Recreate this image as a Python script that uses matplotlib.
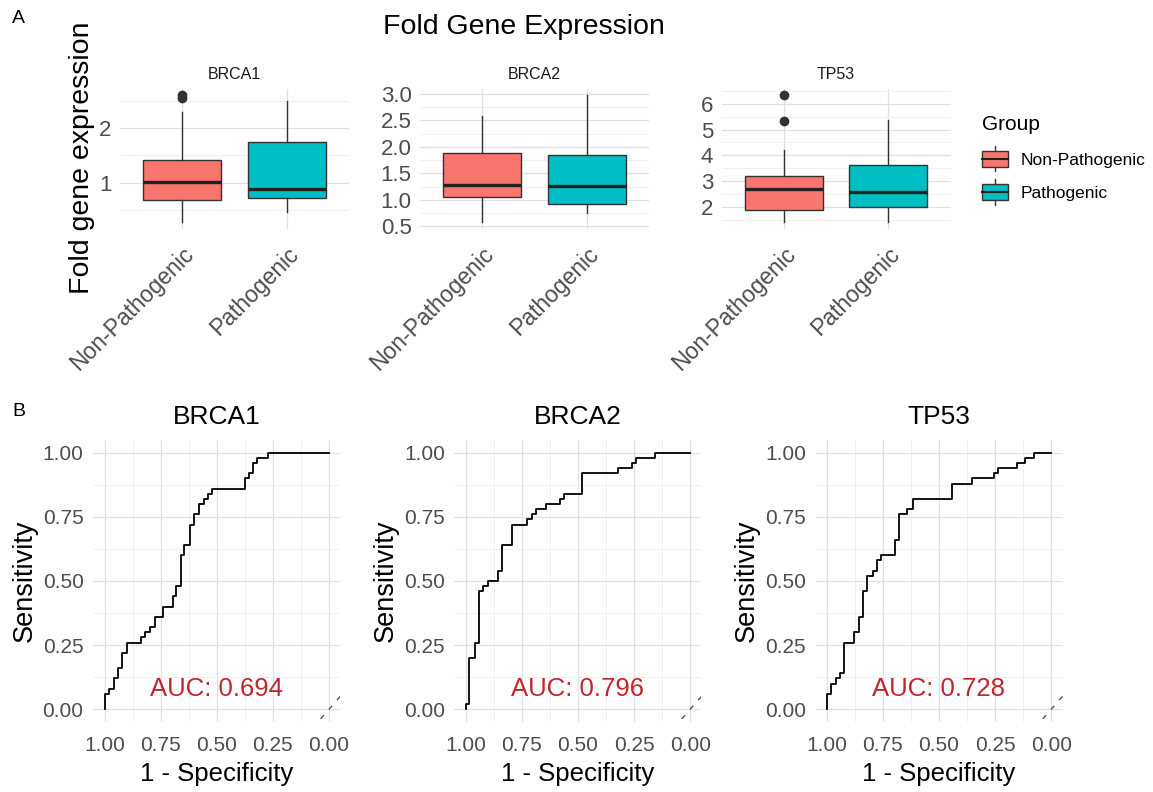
import matplotlib
matplotlib.use("Agg")
import matplotlib.pyplot as plt
from matplotlib.patches import Patch, Rectangle
from matplotlib.lines import Line2D
from matplotlib.legend_handler import HandlerBase
from matplotlib.ticker import MultipleLocator, FormatStrFormatter
from matplotlib.transforms import ScaledTranslation

plt.rcParams['font.family'] = ['Liberation Sans', 'DejaVu Sans']

# ---- data -------------------------------------------------------------
genes = ["BRCA1", "BRCA2", "TP53"]
groups = ["Non-Pathogenic", "Pathogenic"]
group_colors = ["#F8766D", "#00BFC4"]

# boxplot summaries, per gene: [Non-Pathogenic, Pathogenic]
box_q1 = [[0.69, 0.72], [1.05, 0.93], [1.87, 2.00]]
box_median = [[1.01, 0.88], [1.28, 1.26], [2.67, 2.59]]
box_q3 = [[1.41, 1.74], [1.88, 1.85], [3.21, 3.61]]
whisker_low = [[0.28, 0.47], [0.58, 0.75], [1.40, 1.40]]
whisker_high = [[2.30, 2.49], [2.58, 2.98], [4.22, 5.36]]
outliers = [[[2.56, 2.61], []], [[], []], [[6.35, 5.34], []]]
y_major = [1.0, 0.5, 1.0]
y_fmt = ["%g", "%.1f", "%g"]

# ROC curves (specificity on reversed x axis, sensitivity on y)
roc_spec = [
    [1.0, 1.0, 0.982, 0.957, 0.939, 0.920, 0.900, 0.838, 0.818, 0.797, 0.775, 0.741, 0.696, 0.681,
     0.659, 0.644, 0.621, 0.602, 0.581, 0.559, 0.539, 0.520, 0.376, 0.356, 0.338, 0.320, 0.274, 0.0],
    [1.0, 1.0, 0.984, 0.958, 0.939, 0.921, 0.903, 0.857, 0.839, 0.794, 0.727, 0.705, 0.687, 0.642,
     0.581, 0.563, 0.483, 0.322, 0.258, 0.240, 0.156, 0.0],
    [1.0, 1.0, 0.982, 0.958, 0.940, 0.921, 0.878, 0.858, 0.839, 0.821, 0.796, 0.776, 0.757, 0.694,
     0.676, 0.642, 0.616, 0.440, 0.355, 0.257, 0.239, 0.154, 0.115, 0.075, 0.0],
]
roc_sens = [
    [0.0, 0.06, 0.08, 0.12, 0.16, 0.22, 0.26, 0.28, 0.30, 0.32, 0.36, 0.40, 0.44, 0.48,
     0.60, 0.64, 0.72, 0.76, 0.80, 0.82, 0.84, 0.86, 0.90, 0.92, 0.96, 0.98, 1.00, 1.00],
    [0.0, 0.02, 0.20, 0.26, 0.46, 0.48, 0.50, 0.54, 0.64, 0.72, 0.74, 0.76, 0.78, 0.80,
     0.82, 0.84, 0.92, 0.94, 0.96, 0.98, 1.00, 1.00],
    [0.0, 0.06, 0.10, 0.12, 0.14, 0.26, 0.30, 0.36, 0.46, 0.52, 0.54, 0.58, 0.60, 0.66,
     0.76, 0.78, 0.82, 0.88, 0.90, 0.92, 0.94, 0.96, 0.98, 1.00, 1.00],
]
auc_values = [0.694, 0.796, 0.728]

# ---- layout -----------------------------------------------------------
W, H = 1153, 792
fig = plt.figure(figsize=(W / 100, H / 100), dpi=100)
fig.patch.set_facecolor("white")

TICK_GRAY = "#4D4D4D"
EDGE = "#333333"


def px_axes(left, top, right, bottom):
    return fig.add_axes([left / W, 1 - bottom / H, (right - left) / W, (bottom - top) / H])


def minimal_grid(ax):
    for s in ax.spines.values():
        s.set_visible(False)
    ax.grid(True, which="major", color="#E0E0E0", lw=0.9)
    ax.grid(True, which="minor", color="#EEEEEE", lw=0.6)
    ax.set_axisbelow(True)
    ax.tick_params(which="both", length=0)


class BoxKey(HandlerBase):
    def create_artists(self, legend, orig_handle, xdescent, ydescent, width, height, fontsize, trans):
        x0, y0 = -xdescent, -ydescent
        xm = x0 + width / 2
        box = Rectangle((x0, y0), width, height, facecolor=orig_handle.get_facecolor(),
                        edgecolor=EDGE, lw=1, transform=trans)
        med = Line2D([x0, x0 + width], [y0 + height / 2] * 2, color="#222222", lw=1.5, transform=trans)
        w_hi = Line2D([xm, xm], [y0 + height, y0 + height * 1.3], color=EDGE, lw=1, transform=trans)
        w_lo = Line2D([xm, xm], [y0 - height * 0.3, y0], color=EDGE, lw=1, transform=trans)
        return [w_hi, w_lo, box, med]


# ---- A: boxplots ------------------------------------------------------
box_lefts = [120, 420, 721.5]
for i, gene in enumerate(genes):
    left = box_lefts[i]
    ax = px_axes(left, 88.5, left + 229, 228.5)
    stats = []
    for j in range(2):
        stats.append(dict(q1=box_q1[i][j], med=box_median[i][j], q3=box_q3[i][j],
                          whislo=whisker_low[i][j], whishi=whisker_high[i][j],
                          fliers=outliers[i][j]))
    bp = ax.bxp(stats, positions=[1, 2], widths=0.75, patch_artist=True, showcaps=False,
                boxprops=dict(edgecolor=EDGE, linewidth=1.0),
                medianprops=dict(color="#222222", linewidth=2.4),
                whiskerprops=dict(color=EDGE, linewidth=1.0),
                flierprops=dict(marker="o", markerfacecolor="#333333", markeredgecolor="#333333",
                                markersize=6))
    for patch, c in zip(bp["boxes"], group_colors):
        patch.set_facecolor(c)

    lo = min(whisker_low[i] + [v for o in outliers[i] for v in o])
    hi = max(whisker_high[i] + [v for o in outliers[i] for v in o])
    pad = (hi - lo) * 0.05
    ax.set_ylim(lo - pad, hi + pad)
    ax.set_xlim(0.4, 2.6)
    ax.yaxis.set_major_locator(MultipleLocator(y_major[i]))
    ax.yaxis.set_minor_locator(MultipleLocator(y_major[i] / 2))
    ax.yaxis.set_major_formatter(FormatStrFormatter(y_fmt[i]))
    minimal_grid(ax)
    ax.grid(False, axis="x", which="minor")
    ax.set_xticks([1, 2])
    ax.set_xticklabels(groups, rotation=45, ha="right", rotation_mode="anchor",
                       fontsize=16.5, color=TICK_GRAY)
    off = ScaledTranslation(14 / 100, 0, fig.dpi_scale_trans)
    for lab in ax.get_xticklabels():
        lab.set_transform(lab.get_transform() + off)
    ax.tick_params(axis="x", pad=10)
    ax.tick_params(axis="y", labelsize=16, labelcolor=TICK_GRAY, pad=6)
    ax.set_title(gene, fontsize=11.5, color="#1A1A1A", pad=7)

fig.text(12 / W, 1 - 18.5 / H, "A", fontsize=14, ha="left", va="center")
fig.text(524 / W, 1 - 27 / H, "Fold Gene Expression", fontsize=20.5, ha="center", va="center")
fig.text(82 / W, 1 - 158 / H, "Fold gene expression", fontsize=20.5, rotation=90,
         ha="center", va="center")

handles = [Patch(facecolor=c) for c in group_colors]
leg = fig.legend(handles, groups, title="Group", loc="upper left",
                 bbox_to_anchor=(982 / W, 1 - 115 / H), frameon=False, borderpad=0,
                 borderaxespad=0, fontsize=12.5, title_fontsize=15, handlelength=1.5,
                 handleheight=1.04, handletextpad=0.75, labelspacing=0.95, alignment="left",
                 handler_map={Patch: BoxKey()})
leg._legend_box.sep = 12

# ---- B: ROC curves ----------------------------------------------------
roc_lefts = [93.3, 454.5, 815.5]
for i, gene in enumerate(genes):
    left = roc_lefts[i]
    ax = px_axes(left, 440, left + 247, 722)
    ax.step(roc_spec[i], roc_sens[i], where="post", color="black", lw=1.3)
    ax.axline((0, 0), slope=-1, color="#444444", lw=0.9, ls=(0, (4, 6)))
    ax.set_xlim(1.05, -0.05)
    ax.set_ylim(-0.05, 1.05)
    ax.xaxis.set_major_locator(MultipleLocator(0.25))
    ax.yaxis.set_major_locator(MultipleLocator(0.25))
    ax.xaxis.set_minor_locator(MultipleLocator(0.125))
    ax.yaxis.set_minor_locator(MultipleLocator(0.125))
    ax.xaxis.set_major_formatter(FormatStrFormatter("%.2f"))
    ax.yaxis.set_major_formatter(FormatStrFormatter("%.2f"))
    minimal_grid(ax)
    ax.tick_params(labelsize=15, labelcolor=TICK_GRAY)
    ax.tick_params(axis="x", pad=10)
    ax.tick_params(axis="y", pad=7)
    ax.set_title(gene, fontsize=19, pad=11.5)
    ax.set_xlabel("1 - Specificity", fontsize=18.5)
    ax.set_ylabel("Sensitivity", fontsize=19.5)
    ax.xaxis.set_label_coords(0.5, -(762 - 722) / 282)
    ax.yaxis.set_label_coords(-(93.3 - 38) / 247, 0.5)
    ax.text(0.5, 0.05, "AUC: %.3f" % auc_values[i], color="#C0262B", fontsize=18.5,
            ha="center", va="baseline")

fig.text(12 / W, 1 - 411.5 / H, "B", fontsize=14, ha="left", va="center")

fig.savefig("out.png", dpi=100)
